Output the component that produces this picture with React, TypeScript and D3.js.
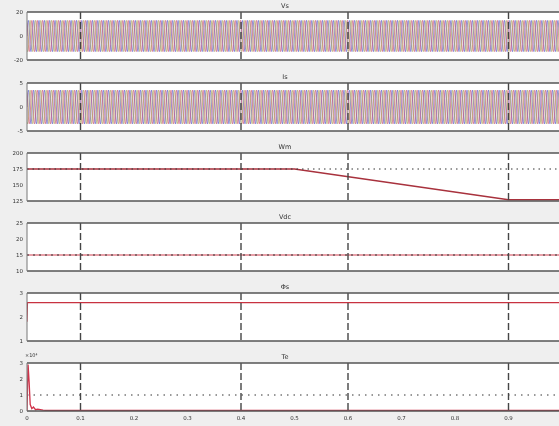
import React from "react";
import * as d3 from "d3";

// time axis (s)
const timeTicks = [0, 0.1, 0.2, 0.3, 0.4, 0.5, 0.6, 0.7, 0.8, 0.9];
const eventTimes = [0.1, 0.4, 0.6, 0.9];

const panelTitles = ["Vs", "Is", "Wm", "Vdc", "Φs", "Te"];
const panelDomains: [number, number][] = [[-20, 20], [-5, 5], [125, 200], [10, 25], [1, 3], [0, 3]];
const panelTicks = [[-20, 0, 20], [-5, 0, 5], [125, 150, 175, 200], [10, 15, 20, 25], [1, 2, 3], [0, 1, 2, 3]];

// one period of the phase waveforms, 12 samples, repeated for each cycle
const vsCycle = [0, 7, 12, 13, 11, 6, 0, -7, -12, -13, -11, -6];
const isCycle = [0, 1.9, 3.2, 3.5, 3, 1.7, 0, -1.9, -3.2, -3.5, -3, -1.7];
const cycleCount = 100;
const phaseShift = [0, 4, 8];
const phaseColors = ["#4a4ec8", "#c84a6a", "#a8a050"];

// speed
const speedTime = [0, 0.5, 0.9, 1];
const speedValue = [175, 175, 127, 127];
const speedRef = 175;

// dc voltage
const vdcValue = 15;

// flux
const fluxTime = [0, 0.001, 1];
const fluxValue = [1.8, 2.6, 2.6];

// torque
const teTime = [0, 0.002, 0.004, 0.006, 0.009, 0.012, 0.016, 0.02, 0.03, 0.04, 1];
const teValue = [0, 2.9, 1.8, 0.4, 0.15, 0.25, 0.08, 0.12, 0.05, 0.03, 0.03];
const teRef = 1;

const W = 559, H = 426;
const left = 27, right = 562;
const panelTop = [12, 83, 153, 223, 293, 363];
const panelH = 48;

const x = d3.scaleLinear().domain([0, 1]).range([left, right]);

const wave = (cycle: number[], shift: number) => {
  const n = cycle.length;
  const pts: [number, number][] = [];
  for (let c = 0; c < cycleCount; c++) {
    for (let k = 0; k < n; k++) {
      pts.push([(c * n + k) / (cycleCount * n), cycle[(k + shift) % n]]);
    }
  }
  return pts;
};

export default function App() {
  const font = "'DejaVu Sans', sans-serif";
  return (
    <svg width={W} height={H} style={{ position: "absolute", left: 0, top: 0, background: "#efefef" }}>
      <defs>
        <filter id="soft"><feGaussianBlur stdDeviation="0.4" /></filter>
        {panelTop.map((t, i) => (
          <clipPath id={`clip${i}`} key={i}>
            <rect x={left} y={t} width={right - left} height={panelH} />
          </clipPath>
        ))}
      </defs>
      <g filter="url(#soft)">
        {panelTop.map((top, i) => {
          const y = d3.scaleLinear().domain(panelDomains[i]).range([top + panelH, top]);
          const line = d3.line<[number, number]>().x(d => x(d[0])).y(d => y(d[1]));
          let content: React.ReactNode = null;
          if (i === 0 || i === 1) {
            const cyc = i === 0 ? vsCycle : isCycle;
            content = phaseShift.map((s, p) => (
              <path key={p} d={line(wave(cyc, s)) || ""} fill="none" stroke={phaseColors[p]} strokeWidth={0.8} opacity={0.75} />
            ));
          } else if (i === 2) {
            content = (
              <>
                <path d={line(speedTime.map((t, k) => [t, speedValue[k]])) || ""} fill="none" stroke="#a8303c" strokeWidth={1.4} />
                <path d={line([[0, speedRef], [1, speedRef]]) || ""} fill="none" stroke="#333" strokeWidth={1} strokeDasharray="1.5,4" />
              </>
            );
          } else if (i === 3) {
            content = (
              <>
                <path d={line([[0, vdcValue], [1, vdcValue]]) || ""} fill="none" stroke="#d04050" strokeWidth={1.2} />
                <path d={line([[0, vdcValue], [1, vdcValue]]) || ""} fill="none" stroke="#333" strokeWidth={1} strokeDasharray="2,4" />
              </>
            );
          } else if (i === 4) {
            content = (
              <path d={line(fluxTime.map((t, k) => [t, fluxValue[k]])) || ""} fill="none" stroke="#c83040" strokeWidth={1.1} />
            );
          } else {
            content = (
              <>
                <path d={line([[0, teRef], [1, teRef]]) || ""} fill="none" stroke="#333" strokeWidth={1} strokeDasharray="1.5,5" />
                <path d={line(teTime.map((t, k) => [t, teValue[k]])) || ""} fill="none" stroke="#d03048" strokeWidth={1.3} />
              </>
            );
          }
          return (
            <g key={i}>
              <rect x={left} y={top} width={right - left} height={panelH} fill="#fff" />
              <text x={285} y={top - 4} fontSize={6.5} fontFamily={font} fill="#333" textAnchor="middle">{panelTitles[i]}</text>
              <g clipPath={`url(#clip${i})`}>{content}</g>
              {eventTimes.map(t => (
                <line key={t} x1={x(t)} x2={x(t)} y1={top} y2={top + panelH} stroke="#444" strokeWidth={1.4} strokeDasharray="7,3" />
              ))}
              <line x1={left} x2={right} y1={top} y2={top} stroke="#555" strokeWidth={1.5} />
              <line x1={left} x2={right} y1={top + panelH} y2={top + panelH} stroke="#555" strokeWidth={1.5} />
              <line x1={left} x2={left} y1={top} y2={top + panelH} stroke="#777" strokeWidth={1} />
              {panelTicks[i].map(v => (
                <text key={v} x={left - 4} y={y(v) + 2} fontSize={5.5} fontFamily={font} fill="#333" textAnchor="end">{v}</text>
              ))}
            </g>
          );
        })}
        <text x={left - 2} y={panelTop[5] - 6} fontSize={5} fontFamily={font} fill="#333">×10⁴</text>
        {timeTicks.map(t => (
          <text key={t} x={x(t)} y={panelTop[5] + panelH + 9} fontSize={5.5} fontFamily={font} fill="#333" textAnchor="middle">{t}</text>
        ))}
      </g>
    </svg>
  );
}
